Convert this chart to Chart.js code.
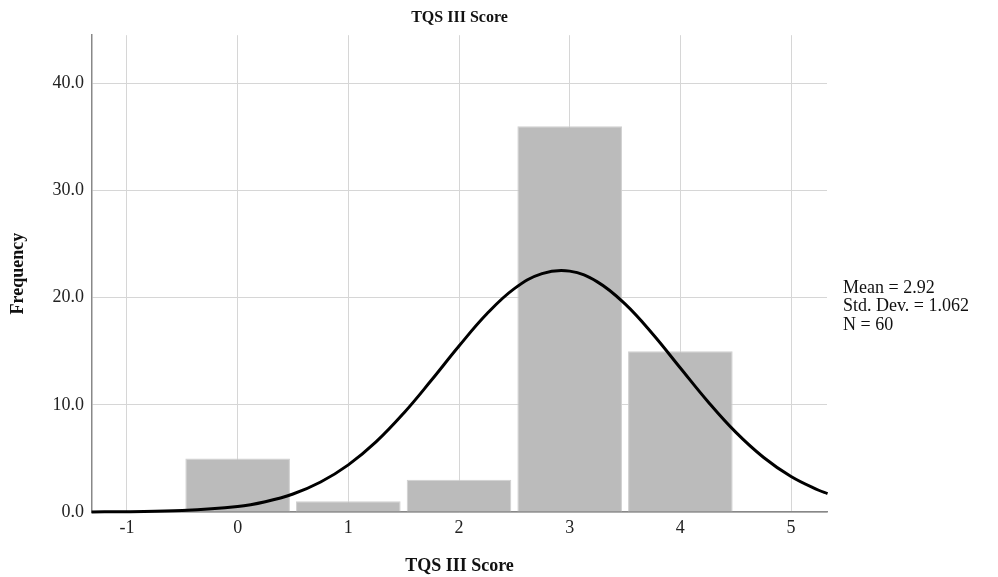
<!DOCTYPE html>
<html>
<head>
<meta charset="utf-8">
<script src="https://cdn.jsdelivr.net/npm/chart.js@4/dist/chart.umd.min.js"></script>
<style>
  html, body { margin: 0; padding: 0; background: #fff; }
  #wrap { width: 998px; height: 577px; }
</style>
</head>
<body>
<div id="wrap"><canvas id="myChart" width="998" height="577"></canvas></div>
<script>
'use strict'

let scores = [0, 1, 2, 3, 4];
let frequencies = [5, 1, 3, 36, 15];

// normal curve
let curveX = [-1.32, -1, -0.5, 0, 0.25, 0.5, 0.75, 1, 1.25, 1.5, 1.75, 2, 2.25, 2.5, 2.75, 3, 3.25, 3.5, 3.75, 4, 4.25, 4.5, 4.75, 5, 5.25, 5.33];
let curveY = [0.01, 0.03, 0.13, 0.51, 0.96, 1.68, 2.8, 4.4, 6.54, 9.22, 12.29, 15.49, 18.48, 20.85, 22.25, 22.48, 21.48, 19.42, 16.61, 13.44, 10.29, 7.45, 5.11, 3.31, 2.03, 1.72];

let xTicks = [-1, 0, 1, 2, 3, 4, 5];
let yTicks = [0, 10, 20, 30, 40];
let statsLines = ['Mean = 2.92', 'Std. Dev. = 1.062', 'N = 60'];

let serif = '"Liberation Serif", "Times New Roman", serif';

let barData = [];
for (let i = 0; i < scores.length; i++) {
    barData.push({ x: scores[i], y: frequencies[i] });
}
let lineData = [];
for (let i = 0; i < curveX.length; i++) {
    lineData.push({ x: curveX[i], y: curveY[i] });
}

let statsText = {
    id: 'statsText',
    afterDraw(chart) {
        let ctx = chart.ctx;
        ctx.save();
        ctx.font = '18px ' + serif;
        ctx.fillStyle = '#111';
        ctx.textBaseline = 'middle';
        ctx.textAlign = 'left';
        for (let i = 0; i < statsLines.length; i++) {
            ctx.fillText(statsLines[i], 843, 288 + i * 18.5);
        }
        ctx.restore();
    }
};

let ctx = document.getElementById('myChart').getContext('2d');
let myChart = new Chart(ctx, {
    type: 'bar',
    data: {
        datasets: [{
            type: 'line',
            data: lineData,
            borderColor: '#000',
            borderWidth: 3,
            pointRadius: 0,
            tension: 0.4,
            fill: false,
            clip: false,
            order: 0
        }, {
            type: 'bar',
            data: barData,
            backgroundColor: '#bbbbbb',
            borderColor: '#cfcfcf',
            borderWidth: 1,
            barPercentage: 0.945,
            categoryPercentage: 1,
            order: 1
        }]
    },
    options: {
        responsive: false,
        animation: false,
        layout: { padding: { left: 0, right: 171, top: 0, bottom: 0 } },
        plugins: {
            legend: { display: false },
            tooltip: { enabled: false },
            title: {
                display: true,
                text: 'TQS III Score',
                fullSize: false,
                color: '#111',
                font: { family: serif, size: 16, weight: 'bold' },
                padding: { top: 8, bottom: 8 }
            }
        },
        scales: {
            x: {
                type: 'linear',
                min: -1.316,
                max: 5.325,
                offset: false,
                afterBuildTicks: (axis) => { axis.ticks = xTicks.map(v => ({ value: v })); },
                afterFit: (axis) => { axis.height = 65; },
                grid: { color: '#d6d6d6', lineWidth: 1, drawTicks: false, offset: false },
                border: { color: '#888', width: 1.5 },
                ticks: {
                    color: '#222',
                    padding: 5,
                    font: { family: serif, size: 18 },
                    callback: (v) => String(v)
                },
                title: {
                    display: true,
                    text: 'TQS III Score',
                    color: '#111',
                    font: { family: serif, size: 18, weight: 'bold' },
                    padding: { top: 0, bottom: 0 }
                }
            },
            y: {
                min: 0,
                max: 44.5,
                afterBuildTicks: (axis) => { axis.ticks = yTicks.map(v => ({ value: v })); },
                afterFit: (axis) => { axis.width = 92; },
                grid: { color: '#d6d6d6', lineWidth: 1, drawTicks: false },
                border: { color: '#888', width: 1.5 },
                ticks: {
                    color: '#222',
                    padding: 8,
                    font: { family: serif, size: 18 },
                    callback: (v) => v.toFixed(1)
                },
                title: {
                    display: true,
                    text: 'Frequency',
                    color: '#111',
                    font: { family: serif, size: 18, weight: 'bold' },
                    padding: { top: 8, bottom: 0 }
                }
            }
        }
    },
    plugins: [statsText]
});
</script>
</body>
</html>
